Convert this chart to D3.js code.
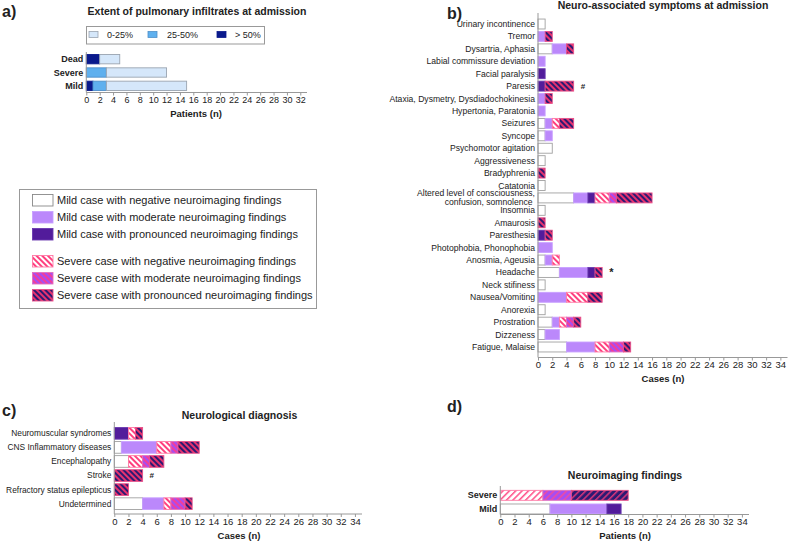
<!DOCTYPE html>
<html><head><meta charset="utf-8">
<script src="https://cdn.jsdelivr.net/npm/d3@7"></script>
<style>body{margin:0;background:#fff;} svg text{font-family:"Liberation Sans",Arial,sans-serif;fill:#222;}</style>
</head><body><svg id="c" width="789" height="541"></svg>
<script>
// ---------- DATA ----------
const seriesKeys = ["mildNeg","mildMod","mildPron","sevNeg","sevMod","sevPron"];
const seriesLabels = [
  "Mild case with negative neuroimaging findings",
  "Mild case with moderate neuroimaging findings",
  "Mild case with pronounced neuroimaging findings",
  "Severe case with negative neuroimaging findings",
  "Severe case with moderate neuroimaging findings",
  "Severe case with pronounced neuroimaging findings"
];

// a) pulmonary infiltrates
const pulmCats = ["Dead","Severe","Mild"];
const pulmKeys = ["> 50%","25-50%","0-25%"];
const pulmGt50 = [2,0,1];
const pulm25_50 = [0,3,2];
const pulm0_25 = [3,9,12];
const pulmTicks = d3.range(0,33,2);

// b) symptoms
const symptomCats = ["Urinary incontinence","Tremor","Dysartria, Aphasia","Labial commissure deviation","Facial paralysis","Paresis",
  "Ataxia, Dysmetry, Dysdiadochokinesia","Hypertonia, Paratonia","Seizures","Syncope","Psychomotor agitation","Aggressiveness",
  "Bradyphrenia","Catatonia","Altered level of consciousness,\nconfusion, somnolence ","Insomnia","Amaurosis","Paresthesia",
  "Photophobia, Phonophobia","Anosmia, Ageusia","Headache","Neck stifiness","Nausea/Vomiting","Anorexia","Prostration","Dizzeness","Fatigue, Malaise"];
const symMildNeg  = [1,0,2,0,0,0,0,0,1,1,2,1,0,1,5,1,0,0,0,1,3,1,0,1,2,1,4];
const symMildMod  = [0,1,2,1,0,0,1,1,1,1,0,0,0,0,2,0,0,0,2,1,4,0,4,0,1,2,4];
const symMildPron = [0,0,0,0,1,1,0,0,0,0,0,0,0,0,1,0,0,1,0,0,1,0,0,0,0,0,0];
const symSevNeg   = [0,0,0,0,0,0,0,0,1,0,0,0,0,0,2,0,0,0,0,1,0,0,3,0,1,0,2];
const symSevMod   = [0,0,0,0,0,0,0,0,0,0,0,0,0,0,1,0,0,0,0,0,0,0,0,0,1,0,2];
const symSevPron  = [0,1,1,0,0,4,1,0,2,0,0,0,1,0,5,0,1,1,0,0,1,0,2,0,1,0,1];
const symMarkers  = [["Paresis","#"],["Headache","*"]];

// c) neurological diagnosis
const diagCats = ["Neuromuscular syndromes","CNS Inflammatory diseases","Encephalopathy","Stroke","Refractory status epilepticus","Undetermined"];
const diagMildNeg  = [0,1,2,0,0,4];
const diagMildMod  = [0,5,0,0,0,3];
const diagMildPron = [2,0,0,0,0,0];
const diagSevNeg   = [1,2,2,0,0,1];
const diagSevMod   = [0,1,1,0,0,2];
const diagSevPron  = [1,3,2,4,2,1];
const diagMarkers  = [["Stroke","#"]];

// d) neuroimaging findings
const imgCats = ["Severe","Mild"];
const imgMildNeg  = [0,7];
const imgMildMod  = [0,8];
const imgMildPron = [0,2];
const imgSevNeg   = [6,0];
const imgSevMod   = [4,0];
const imgSevPron  = [8,0];

const caseTicks = d3.range(0,35,2);

// ---------- STYLE ----------
const svg = d3.select("#c");
const defs = svg.append("defs");
function stripePattern(id, bg, fg, angle, period, w){
  const p = defs.append("pattern").attr("id",id).attr("patternUnits","userSpaceOnUse")
    .attr("width",period).attr("height",period).attr("patternTransform",`rotate(${angle})`);
  p.append("rect").attr("width",period).attr("height",period).attr("fill",bg);
  p.append("rect").attr("width",w).attr("height",period).attr("fill",fg);
}
stripePattern("sn1","#ffffff","#ff3f7e",-45,4,2);
stripePattern("sm1","#a64df2","#f23d9a",-45,4,2);
stripePattern("sp1","#2d1a72","#e8326f",-45,4,2);
stripePattern("sn2","#ffffff","#ff4f88",45,4.5,1.5);
stripePattern("sm2","#a64df2","#f04aa0",45,4.5,1.5);
stripePattern("sp2","#2d1a72","#d8357a",45,4.5,1.5);

function styles(v){
  return {
    mildNeg:{fill:"#ffffff",stroke:"#a0a0a0"},
    mildMod:{fill:"#bb88fb",stroke:"#c8a0ff"},
    mildPron:{fill:"#521c9b",stroke:"#6a3ab0"},
    sevNeg:{fill:`url(#sn${v})`,stroke:"#ff7aa6"},
    sevMod:{fill:`url(#sm${v})`,stroke:"#e070c0"},
    sevPron:{fill:`url(#sp${v})`,stroke:"#e8508a"}
  };
}
const pulmStyles = {"> 50%":{fill:"#0a1a8c",stroke:"#0a1a8c"},"25-50%":{fill:"#5fb0ee",stroke:"#4f8fc8"},"0-25%":{fill:"#d5e7fa",stroke:"#9aa4b0"}};

// ---------- PANEL DRAWER ----------
function panel(o){
  const g = svg.append("g");
  const x = d3.scaleLinear().domain([0,o.xMax]).range([o.x0,o.x1]);
  const y = d3.scaleBand().domain(o.cats).range([o.yTop,o.yBot]).paddingInner(o.pad).paddingOuter(o.pad/2);
  const rows = o.cats.map((c,i)=>{const r={cat:c}; o.keys.forEach((k,j)=>r[k]=o.values[j][i]); return r;});
  const stacked = d3.stack().keys(o.keys)(rows);
  stacked.forEach(layer=>{
    const st = o.styles[layer.key];
    g.selectAll(null).data(layer.filter(d=>d[1]>d[0])).join("rect")
      .attr("x",d=>x(d[0])).attr("width",d=>x(d[1])-x(d[0]))
      .attr("y",d=>y(d.data.cat)).attr("height",y.bandwidth())
      .attr("fill",st.fill).attr("stroke",st.stroke).attr("stroke-width",0.9);
  });
  // axes
  const ax = g.append("g").attr("transform",`translate(0,${o.axisY})`)
    .call(d3.axisBottom(x).tickValues(o.ticks).tickSize(3).tickPadding(1.2).tickFormat(d3.format("d")));
  ax.select(".domain").attr("stroke","#999").attr("d",`M${o.x0},0H${o.x1}`);
  ax.selectAll(".tick line").attr("stroke","#999");
  ax.selectAll(".tick text").attr("font-size",o.tickFont).attr("fill","#222")
    .style("font-family","'Liberation Sans',Arial,sans-serif");
  g.append("line").attr("x1",o.x0).attr("x2",o.x0).attr("y1",o.yLineTop).attr("y2",o.axisY).attr("stroke","#999");
  // category labels
  o.cats.forEach(c=>{
    const lines = c.split("\n");
    const t = g.append("text").attr("text-anchor","end").attr("font-size",o.labFont)
      .attr("font-weight",o.labBold?"bold":"normal");
    const cy = y(c)+y.bandwidth()/2;
    lines.forEach((ln,i)=>{
      t.append("tspan").attr("x",o.x0-3).attr("y",cy + (i-(lines.length-1)/2)*9)
        .attr("dy","0.35em").text(ln).style("white-space","pre");
    });
  });
  // markers
  (o.markers||[]).forEach(([c,s])=>{
    const tot = stacked[stacked.length-1].find(d=>d.data.cat===c)[1];
    g.append("text").attr("x",x(tot)+7).attr("y",y(c)+y.bandwidth()/2).attr("dy","0.35em")
      .attr("font-size",s==="*"?11:8).attr("font-weight","bold").text(s);
  });
  g.append("text").attr("x",o.titleX).attr("y",o.titleY).attr("text-anchor","middle")
    .attr("font-size",10.5).attr("font-weight","bold").text(o.title);
  g.append("text").attr("x",o.xlabX).attr("y",o.xlabY).attr("text-anchor","middle")
    .attr("font-size",9.5).attr("font-weight","bold").text(o.xlab);
  return g;
}

// panel a
panel({cats:pulmCats,keys:pulmKeys,values:[pulmGt50,pulm25_50,pulm0_25],styles:pulmStyles,
  xMax:33,x0:86.3,x1:307,yTop:52.5,yBot:92.5,pad:0.3,axisY:92.5,yLineTop:52,ticks:pulmTicks,
  tickFont:9,labFont:9,labBold:true,title:"Extent of pulmonary infiltrates at admission",titleX:197,titleY:15,
  xlab:"Patients (n)",xlabX:196,xlabY:117});
// legend a
const la = svg.append("g");
la.append("rect").attr("x",86.5).attr("y",26.5).attr("width",178).attr("height",17.5).attr("fill","#fff").attr("stroke","#999");
[[89,107],[148,167],[217,235]].forEach(([sx,tx],i)=>{
  const k = ["0-25%","25-50%","> 50%"][i];
  la.append("rect").attr("x",sx).attr("y",31.5).attr("width",9).attr("height",6)
    .attr("fill",pulmStyles[k].fill).attr("stroke",pulmStyles[k].stroke).attr("stroke-width",0.8);
  la.append("text").attr("x",tx).attr("y",38).attr("font-size",9).text(k);
});

// panel b
panel({cats:symptomCats,keys:seriesKeys,values:[symMildNeg,symMildMod,symMildPron,symSevNeg,symSevMod,symSevPron],styles:styles(1),
  xMax:35,x0:538,x1:787.5,yTop:17.8,yBot:353.2,pad:0.2,axisY:357.5,yLineTop:13,ticks:caseTicks,
  tickFont:9.5,labFont:8.6,labBold:false,markers:symMarkers,title:"Neuro-associated symptoms at admission",titleX:663,titleY:9,
  xlab:"Cases (n)",xlabX:663,xlabY:382});

// panel c
panel({cats:diagCats,keys:seriesKeys,values:[diagMildNeg,diagMildMod,diagMildPron,diagSevNeg,diagSevMod,diagSevPron],styles:styles(1),
  xMax:35,x0:114.3,x1:362,yTop:426.3,yBot:510.7,pad:0.17,axisY:514,yLineTop:422,ticks:caseTicks,
  tickFont:9.5,labFont:8.4,labBold:false,markers:diagMarkers,title:"Neurological diagnosis",titleX:239.5,titleY:419,
  xlab:"Cases (n)",xlabX:239,xlabY:538.5});

// panel d
panel({cats:imgCats,keys:seriesKeys,values:[imgMildNeg,imgMildMod,imgMildPron,imgSevNeg,imgSevMod,imgSevPron],styles:styles(2),
  xMax:35,x0:500.3,x1:749,yTop:488.5,yBot:515.8,pad:0.27,axisY:514.5,yLineTop:486,ticks:caseTicks,
  tickFont:9.5,labFont:9,labBold:true,title:"Neuroimaging findings",titleX:625,titleY:479,
  xlab:"Patients (n)",xlabX:625,xlabY:538.5});

// big legend
const lg = svg.append("g");
lg.append("rect").attr("x",19.5).attr("y",189.5).attr("width",297).attr("height",119).attr("fill","#fff").attr("stroke","#999");
const legTops = [194,211,228,255,272,289];
const legSt = styles(1);
seriesKeys.forEach((k,i)=>{
  lg.append("rect").attr("x",32.5).attr("y",legTops[i]+0.5).attr("width",20.5).attr("height",11.5)
    .attr("fill",legSt[k].fill).attr("stroke",k==="mildNeg"?"#888":legSt[k].stroke).attr("stroke-width",0.9);
  lg.append("text").attr("x",57).attr("y",legTops[i]+10).attr("font-size",11).text(seriesLabels[i]);
});

// panel letters
[["a)",2,17],["b)",447,19],["c)",2,416],["d)",447,412]].forEach(([t,x,y])=>{
  svg.append("text").attr("x",x).attr("y",y).attr("font-size",16).attr("font-weight","bold").text(t);
});
</script></body></html>
